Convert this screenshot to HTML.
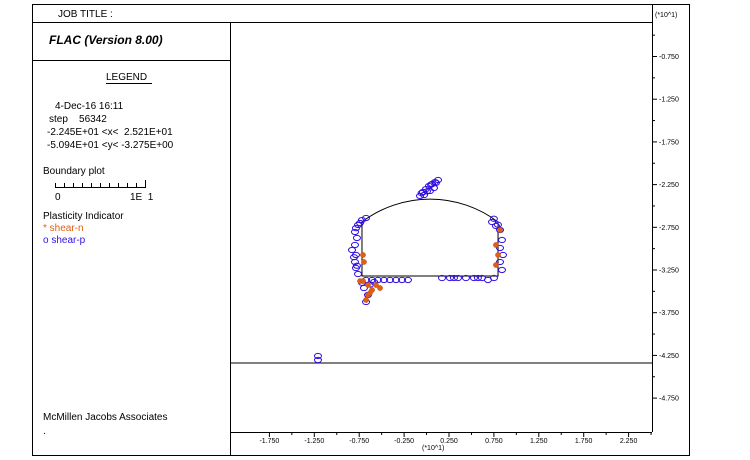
<!DOCTYPE html>
<html><head><meta charset="utf-8">
<style>
html,body{margin:0;padding:0;background:#fff;}
svg{display:block;font-family:"Liberation Sans",Arial,sans-serif;}
</style></head>
<body>
<svg id="chart" width="750" height="460" viewBox="0 0 750 460">
  <g stroke="#000" stroke-width="1" fill="none">
    <rect x="32.5" y="4.5" width="657" height="451"/>
    <line x1="32" y1="22.5" x2="652" y2="22.5"/>
    <line x1="230.5" y1="22" x2="230.5" y2="455"/>
    <line x1="32" y1="60.5" x2="230" y2="60.5"/>
    <line x1="652.5" y1="4" x2="652.5" y2="432"/>
    <line x1="230" y1="432.5" x2="652" y2="432.5"/>
  </g>
  <text x="58" y="17" font-size="10">JOB TITLE :</text>
  <text x="49" y="44" font-size="12" font-weight="bold" font-style="italic">FLAC (Version 8.00)</text>
  <text x="106" y="80" font-size="10">LEGEND</text>
  <line x1="106" y1="83.5" x2="152" y2="83.5" stroke="#000"/>
  <g font-size="10">
    <text x="55" y="109">4-Dec-16  16:11</text>
    <text x="49" y="122" xml:space="preserve">step    56342</text>
    <text x="47" y="135" xml:space="preserve">-2.245E+01 &lt;x&lt;  2.521E+01</text>
    <text x="47" y="148" xml:space="preserve">-5.094E+01 &lt;y&lt; -3.275E+00</text>
    <text x="43" y="174">Boundary plot</text>
    <text x="55" y="200">0</text>
    <text x="130" y="200" xml:space="preserve">1E  1</text>
    <text x="43" y="219">Plasticity Indicator</text>
    <text x="43" y="231" fill="#e06010">* shear-n</text>
    <text x="43" y="243" fill="#3010e0">o shear-p</text>
    <text x="43" y="420">McMillen Jacobs Associates</text>
    <text x="43" y="434">.</text>
  </g>
  <g id="scalebar" stroke="#000"></g>
  <text x="655" y="17" font-size="7">(*10^1)</text>
  <text x="422" y="450" font-size="7">(*10^1)</text>
  <g id="axes"></g>
  <g id="geom"></g>
  <g id="marks"></g>
</svg>
<script>
// axis tick values (units of 10)
const xTicks = [-1.75, -1.25, -0.75, -0.25, 0.25, 0.75, 1.25, 1.75, 2.25];
const xTickLabels = ["-1.750","-1.250","-0.750","-0.250","0.250","0.750","1.250","1.750","2.250"];
const yTicks = [-0.75, -1.25, -1.75, -2.25, -2.75, -3.25, -3.75, -4.25, -4.75];
const yTickLabels = ["-0.750","-1.250","-1.750","-2.250","-2.750","-3.250","-3.750","-4.250","-4.750"];
// geometry (units of 10)
const tunnelLeft = -0.719, tunnelRight = 0.796, tunnelFloor = -3.32, wallTop = -2.688, crown = -2.42;
const boundaryY = -4.339;
// shear-p markers
const shearPX = [-0.073,-0.040,-0.006,0.027,0.061,0.094,0.128,0.038,0.083,-0.028,0.005,0.050,0.105,-0.055,
  -0.763,-0.719,-0.674,-0.797,-0.775,-0.741,-0.786,
  -0.797,-0.830,-0.786,-0.797,-0.786,-0.763,-0.808,-0.775,
  -0.674,-0.607,-0.541,-0.474,-0.407,-0.340,-0.273,-0.207,-0.697,-0.652,-0.674,-0.719,-0.585,-0.630,
  0.172,0.261,0.350,0.439,0.528,0.617,0.684,0.751,0.305,0.572,
  0.729,0.773,0.818,0.840,0.818,0.851,0.818,0.840,0.750,0.795,
  -1.209,-1.209];
const shearPY = [-2.383,-2.337,-2.302,-2.266,-2.243,-2.220,-2.196,-2.325,-2.290,-2.372,-2.330,-2.250,-2.230,-2.350,
  -2.723,-2.665,-2.641,-2.805,-2.875,-2.700,-2.760,
  -2.957,-3.016,-3.074,-3.156,-3.227,-3.297,-3.100,-3.200,
  -3.367,-3.367,-3.367,-3.367,-3.367,-3.367,-3.367,-3.367,-3.461,-3.543,-3.625,-3.400,-3.390,-3.420,
  -3.344,-3.344,-3.344,-3.344,-3.344,-3.344,-3.367,-3.344,-3.344,-3.344,
  -2.688,-2.735,-2.782,-2.899,-2.992,-3.074,-3.156,-3.250,-2.650,-2.720,
  -4.257,-4.304];
// shear-n markers
const shearNX = [-0.708,-0.697,-0.652,-0.607,-0.563,-0.652,-0.674,-0.518,0.773,0.796,0.773,0.818,-0.741,-0.707,-0.630];
const shearNY = [-3.074,-3.156,-3.426,-3.484,-3.426,-3.543,-3.601,-3.461,-2.957,-3.074,-3.191,-2.782,-3.38,-3.38,-3.52];

const NS='http://www.w3.org/2000/svg';
function sx(v){return 449+(v-0.25)*89.8;}
function sy(v){return 270-(v+3.25)*85.4;}
function mk(tag,attrs,parent){const e=document.createElementNS(NS,tag);for(const k in attrs)e.setAttribute(k,attrs[k]);parent.appendChild(e);return e;}

const axes=document.getElementById('axes');
xTicks.forEach((v,i)=>{
  const x=sx(v);
  const t=mk('line',{x1:x,y1:432,x2:x,y2:437,stroke:'#000'},axes);
  
  
  const m=mk('line',{x1:x+22.45,y1:432,x2:x+22.45,y2:435,stroke:'#000'},axes);
  
  
  const l=mk('text',{x:x,y:443,'font-size':7,'text-anchor':'middle'},axes);
  l.textContent=xTickLabels[i];
  
  
});
yTicks.forEach((v,i)=>{
  const y=sy(v);
  const t=mk('line',{x1:652,y1:y,x2:657,y2:y,stroke:'#000'},axes);
  
  
  const m=mk('line',{x1:652,y1:y-21.35,x2:655,y2:y-21.35,stroke:'#000'},axes);
  
  
  const l=mk('text',{x:659,y:y+2.5,'font-size':7},axes);
  l.textContent=yTickLabels[i];
  
  
});

const sb=document.getElementById('scalebar');
mk('line',{x1:55,y1:187.5,x2:145,y2:187.5},sb);
for(let i=0;i<=10;i++){const x=55.5+i*9;mk('line',{x1:x,y1:183,x2:x,y2:188},sb);}
mk('line',{x1:145.5,y1:180,x2:145.5,y2:188},sb);

const g=document.getElementById('geom');
const L=sx(tunnelLeft),R=sx(tunnelRight),F=sy(tunnelFloor),W=sy(wallTop),C=sy(crown);
const half=(R-L)/2,rise=W-C,r=(half*half+rise*rise)/(2*rise);
const p=mk('path',{d:`M${L},${F} L${L},${W} A${r},${r} 0 0 1 ${R},${W} L${R},${F} Z`,fill:'none',stroke:'#000','stroke-width':1},g);


const b=mk('line',{x1:230,y1:sy(boundaryY),x2:652,y2:sy(boundaryY),stroke:'#000'},g);



const marks=document.getElementById('marks');
shearPX.forEach((v,i)=>{
  const e=mk('ellipse',{cx:sx(v),cy:sy(shearPY[i]),rx:3.5,ry:2.6,fill:'none',stroke:'#3010e0','stroke-width':1},marks);
  
  
});
shearNX.forEach((v,i)=>{
  const e=mk('circle',{cx:sx(v),cy:sy(shearNY[i]),r:2.6,fill:'#e06010',stroke:'#c05020','stroke-width':0.5},marks);
  
  
});
</script>
</body></html>
